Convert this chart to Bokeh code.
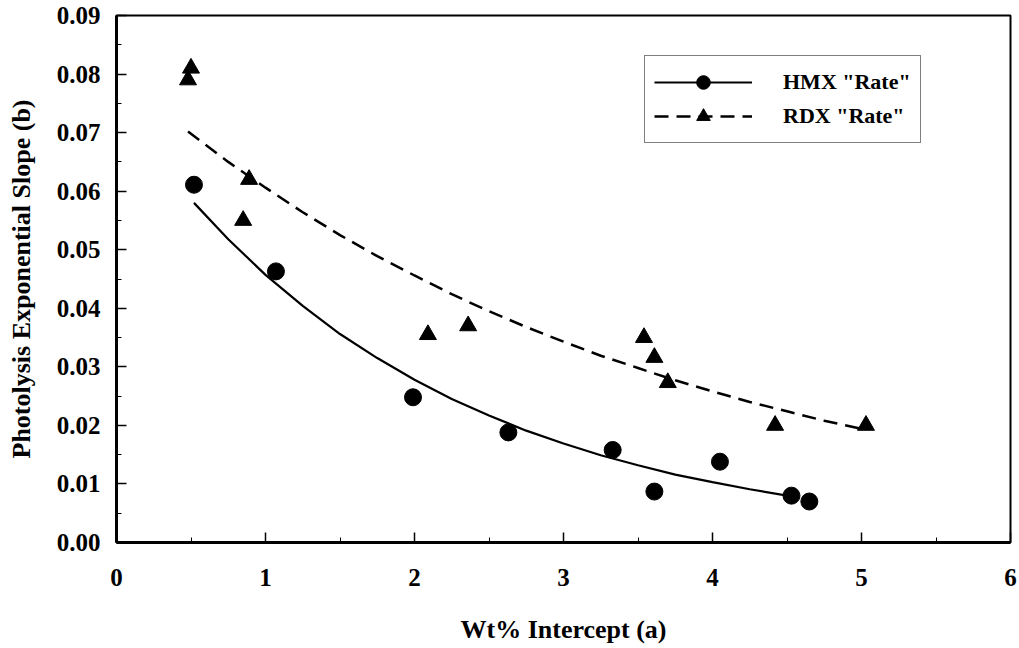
from bokeh.plotting import figure
from bokeh.models import Range1d, FixedTicker, PrintfTickFormatter, Legend, LegendItem
from bokeh.embed import file_html
from bokeh.resources import INLINE

# HMX data (circles)
hmx_x = [0.52, 1.07, 1.99, 2.63, 3.33, 3.61, 4.05, 4.53, 4.65]
hmx_y = [0.0611, 0.0463, 0.0248, 0.0188, 0.0158, 0.0087, 0.0138, 0.0080, 0.0070]
# RDX data (triangles)
rdx_x = [0.48, 0.50, 0.85, 0.89, 2.09, 2.36, 3.54, 3.61, 3.70, 4.42, 5.03]
rdx_y = [0.0790, 0.0810, 0.0550, 0.0620, 0.0355, 0.0370, 0.0350, 0.0316, 0.0273, 0.0200, 0.0200]

# Trend curves, values
hmx_fit_x = [0.52, 0.75, 1.0, 1.25, 1.5, 1.75, 2.0, 2.25, 2.5, 2.75, 3.0, 3.25, 3.5, 3.75, 4.0, 4.25, 4.5]
hmx_fit_y = [0.0580, 0.0518, 0.0457, 0.0404, 0.0356, 0.0315, 0.0278, 0.0245, 0.0217, 0.0191,
             0.0169, 0.0149, 0.0132, 0.0116, 0.0103, 0.0091, 0.0080]
rdx_fit_x = [0.48, 0.75, 1.0, 1.25, 1.5, 1.75, 2.0, 2.25, 2.5, 2.75, 3.0, 3.25, 3.5, 3.75, 4.0, 4.25, 4.5, 4.75, 5.0]
rdx_fit_y = [0.0702, 0.0650, 0.0606, 0.0564, 0.0525, 0.0489, 0.0456, 0.0424, 0.0395, 0.0368,
             0.0343, 0.0319, 0.0298, 0.0277, 0.0258, 0.0240, 0.0224, 0.0208, 0.0194]

x_ticks = [0, 1, 2, 3, 4, 5, 6]
x_minor = [0.5, 1.5, 2.5, 3.5, 4.5, 5.5]
y_ticks = [0.0, 0.01, 0.02, 0.03, 0.04, 0.05, 0.06, 0.07, 0.08, 0.09]
y_minor = [0.005, 0.015, 0.025, 0.035, 0.045, 0.055, 0.065, 0.075, 0.085]

FONT = "Liberation Serif"

p = figure(width=1018, height=646, output_backend="svg", toolbar_location=None,
           x_range=Range1d(0, 6), y_range=Range1d(0, 0.09),
           min_border_left=116, min_border_right=8, min_border_top=15, min_border_bottom=99)
p.xgrid.visible = False
p.ygrid.visible = False
p.outline_line_color = "black"
p.outline_line_width = 2
p.background_fill_color = "white"
p.border_fill_color = "white"

for ax in (p.xaxis[0], p.yaxis[0]):
    ax.axis_line_width = 3
    ax.axis_line_color = "black"
    ax.major_tick_in = 10
    ax.major_tick_out = 0
    ax.minor_tick_in = 5
    ax.minor_tick_out = 0
    ax.major_tick_line_width = 1.5
    ax.minor_tick_line_width = 1
    ax.major_label_text_font = FONT
    ax.major_label_text_font_style = "bold"
    ax.major_label_text_font_size = "25px"
    ax.major_label_text_color = "black"
    ax.axis_label_text_font = FONT
    ax.axis_label_text_font_style = "bold"
    ax.axis_label_text_font_size = "26px"
    ax.axis_label_text_color = "black"

p.xaxis[0].ticker = FixedTicker(ticks=x_ticks, minor_ticks=x_minor)
p.yaxis[0].ticker = FixedTicker(ticks=y_ticks, minor_ticks=y_minor)
p.yaxis[0].formatter = PrintfTickFormatter(format="%.2f")
p.xaxis[0].axis_label = "Wt% Intercept (a)"
p.yaxis[0].axis_label = "Photolysis Exponential Slope (b)"
p.xaxis[0].major_label_standoff = 26
p.xaxis[0].axis_label_standoff = 26
p.yaxis[0].major_label_standoff = 16
p.yaxis[0].axis_label_standoff = 18

hl = p.line(hmx_fit_x, hmx_fit_y, line_color="black", line_width=2.2)
rl = p.line(rdx_fit_x, rdx_fit_y, line_color="black", line_width=2.5, line_dash="14 8")
hs = p.scatter(hmx_x, hmx_y, marker="circle", size=17, fill_color="black", line_color="black")
rs = p.scatter(rdx_x, rdx_y, marker="triangle", size=17, fill_color="black", line_color="black")

legend = Legend(items=[LegendItem(label='HMX "Rate"', renderers=[hl, hs]),
                       LegendItem(label='RDX "Rate"', renderers=[rl, rs])],
                location=(528, 399), orientation="vertical")
legend.glyph_width = 98
legend.glyph_height = 34
legend.label_height = 34
legend.spacing = 0
legend.padding = 9
legend.margin = 0
legend.label_standoff = 31
legend.label_text_font = FONT
legend.label_text_font_style = "bold"
legend.label_text_font_size = "22px"
legend.label_text_color = "black"
legend.border_line_color = "black"
legend.border_line_width = 1.5
legend.background_fill_alpha = 1
p.add_layout(legend, "center")

open("out.html", "w").write(file_html(p, INLINE))
